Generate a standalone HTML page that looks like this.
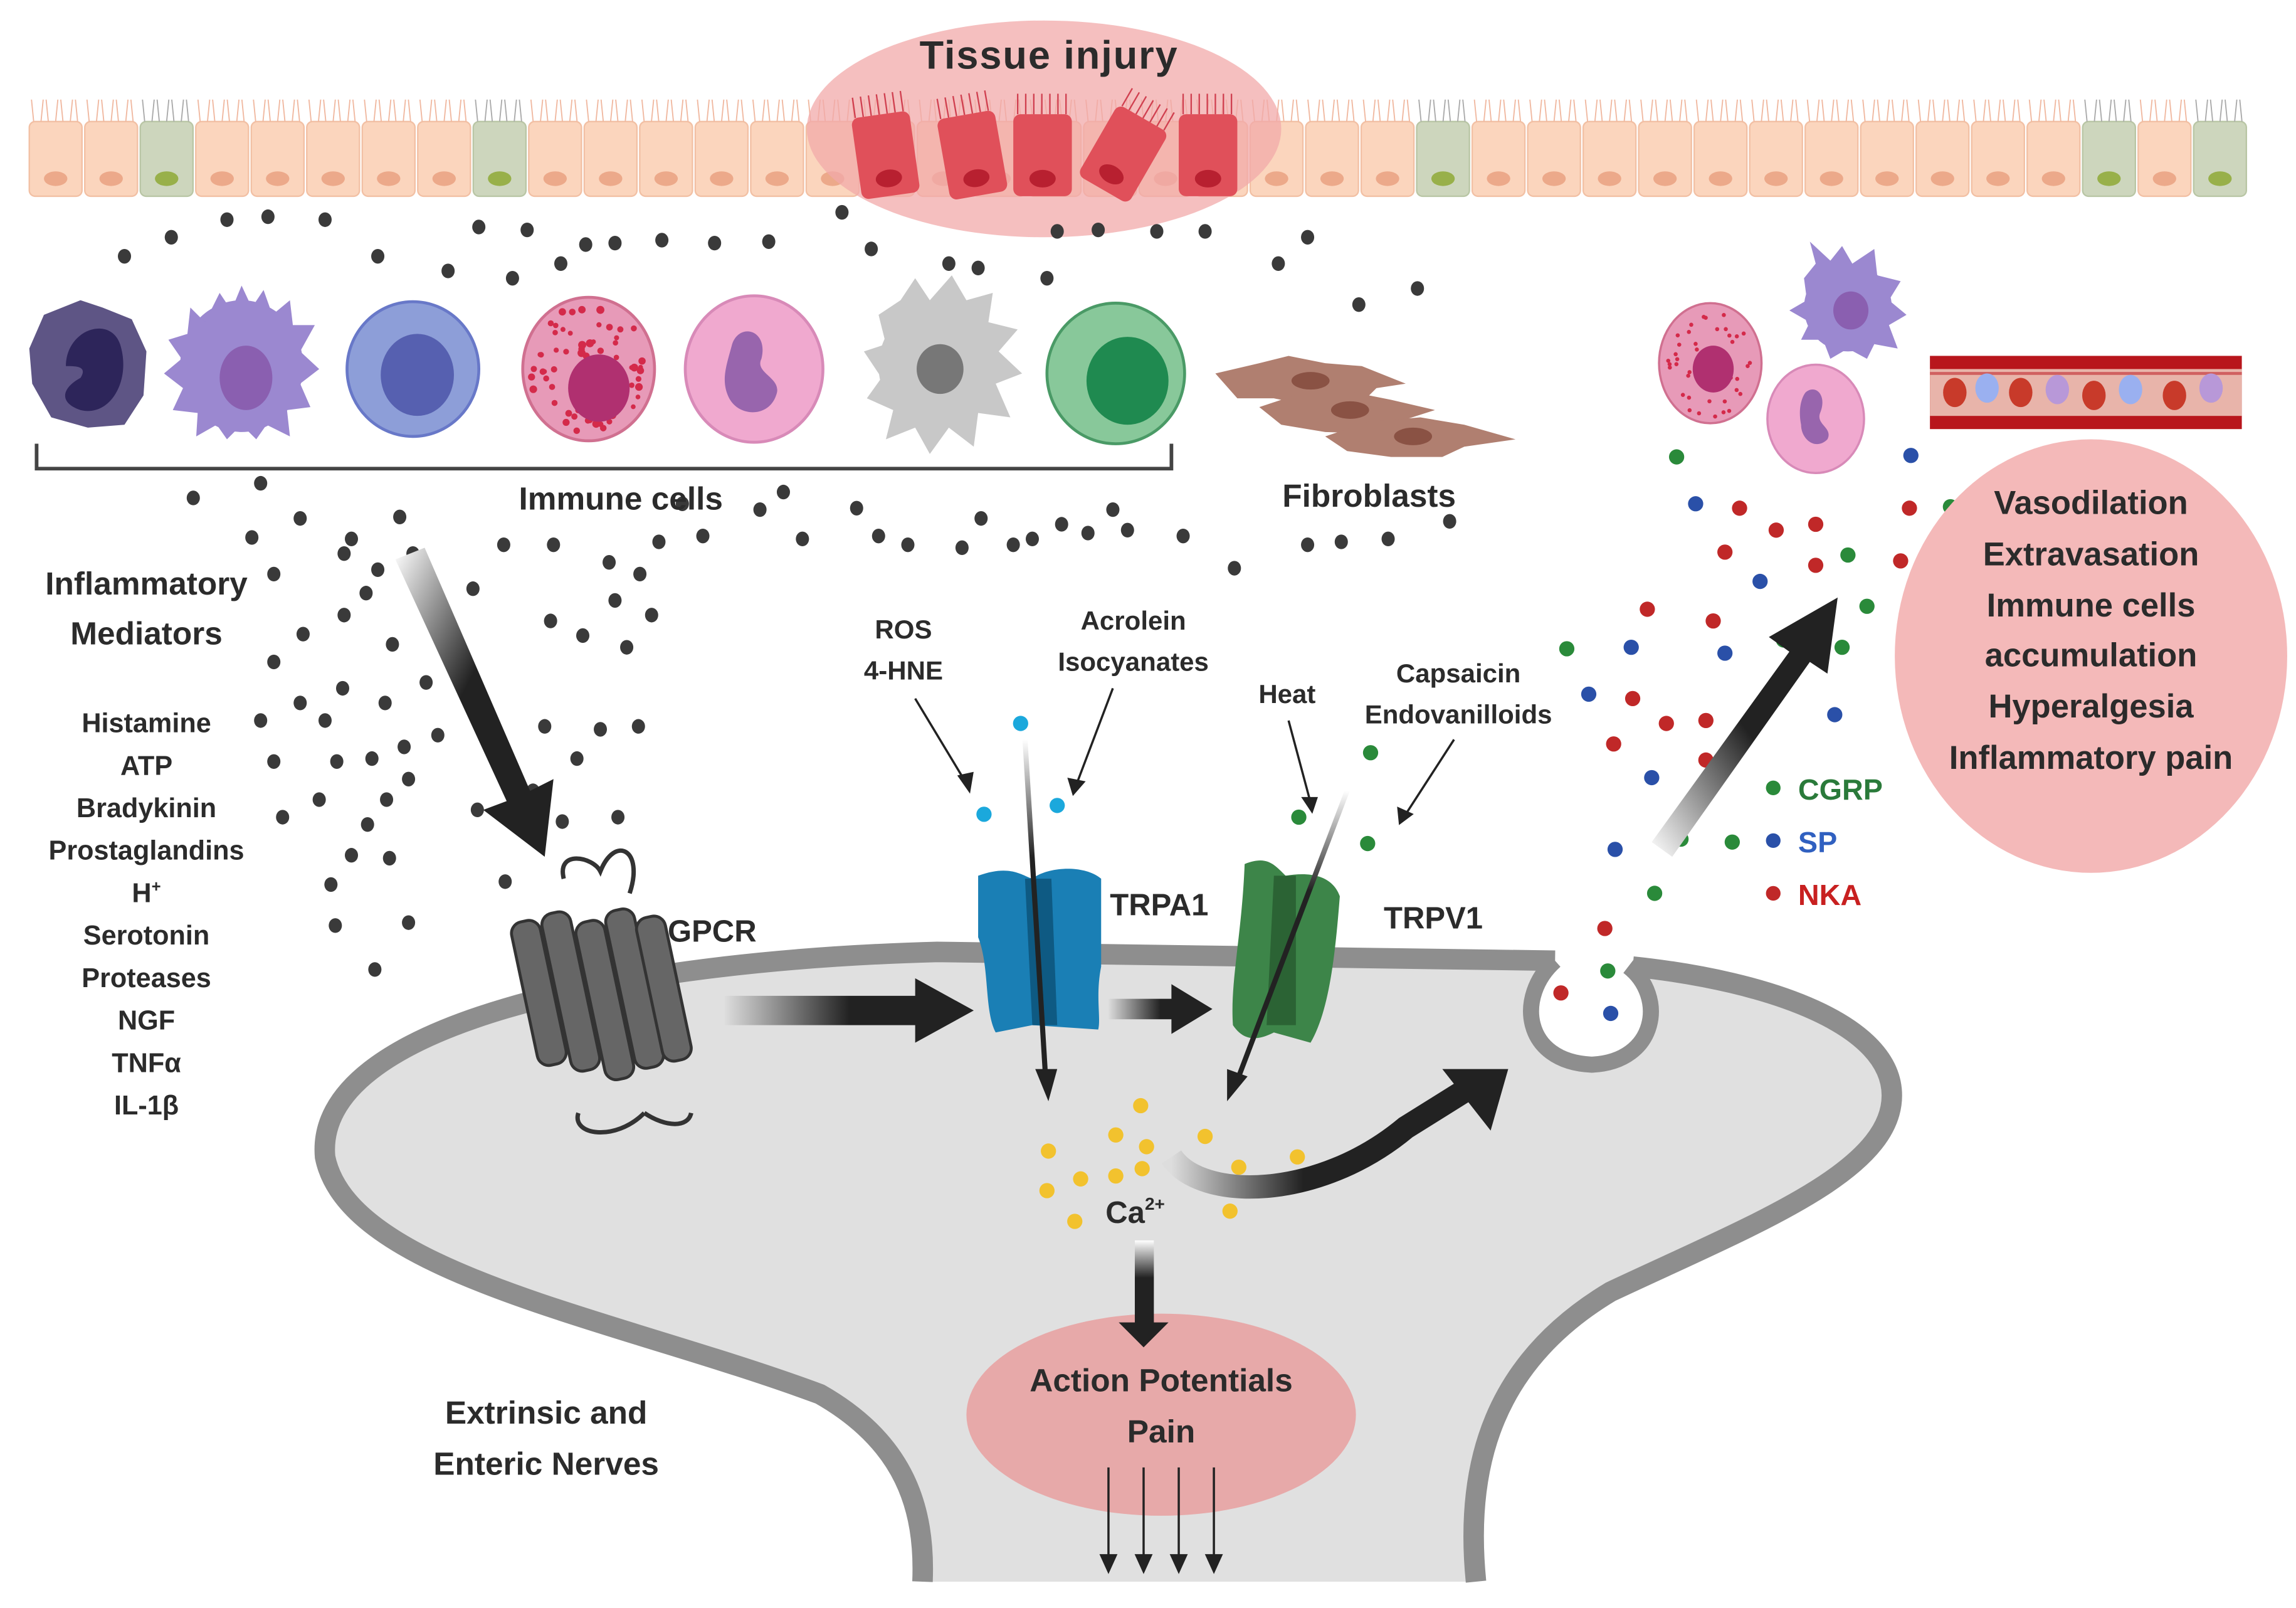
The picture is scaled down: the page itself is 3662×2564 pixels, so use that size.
<!DOCTYPE html>
<html><head><meta charset="utf-8">
<style>
html,body{margin:0;padding:0;background:#fff;}
svg{display:block;}
text{font-family:"Liberation Sans",sans-serif;font-weight:bold;fill:#2b2b2b;}
</style></head>
<body>
<svg id="s" width="3662" height="2564" viewBox="0 0 1568 1098" preserveAspectRatio="none" xmlns="http://www.w3.org/2000/svg">
<defs>
<linearGradient id="ga" x1="0" y1="0" x2="1" y2="1"><stop offset="0" stop-color="#fff"/><stop offset=".45" stop-color="#222"/></linearGradient>
<linearGradient id="gh" x1="0" y1="0" x2="1" y2="0"><stop offset="0" stop-color="#ddd"/><stop offset=".5" stop-color="#222"/></linearGradient>
<linearGradient id="gv" x1="0" y1="0" x2="0" y2="1"><stop offset="0" stop-color="#fff"/><stop offset=".35" stop-color="#222"/></linearGradient>
<linearGradient id="gu" x1="0" y1="1" x2="1" y2="0"><stop offset="0" stop-color="#fff"/><stop offset=".5" stop-color="#222"/></linearGradient>
<linearGradient id="gc" x1="0" y1="0" x2="1" y2="0"><stop offset="0" stop-color="#ddd"/><stop offset=".45" stop-color="#222"/></linearGradient>
</defs>

<g id="epi"></g>
<ellipse cx="713" cy="88" rx="162" ry="74" fill="#f2a9a9" opacity=".75"/>
<g id="inj"></g>
<text x="716" y="47" font-size="27" text-anchor="middle" textLength="176">Tissue injury</text>

<!-- neuron -->
<path d="M222,790 C214,700 420,656 640,650 L1045,654 C1060,655 1062,662 1058,668 C1030,690 1050,728 1087,730 C1124,730 1140,690 1112,668 C1108,662 1112,656 1125,658 C1210,670 1292,700 1292,748 C1292,800 1200,835 1100,882 C1020,930 1000,1000 1008,1080 L630,1080 C632,1030 618,985 560,952 C420,900 238,870 222,790 Z" fill="#e0e0e0"/>
<path d="M1008,1080 C1000,1000 1020,930 1100,882 C1200,835 1292,800 1292,748 C1292,700 1210,670 1115,660" fill="none" stroke="#8e8e8e" stroke-width="14"/>
<path d="M630,1080 C632,1030 618,985 560,952 C420,900 238,870 222,790 C214,700 420,656 640,650 L1062,656" fill="none" stroke="#8e8e8e" stroke-width="14"/>
<path d="M1062,656 C1035,680 1040,725 1087,727 C1132,725 1138,680 1112,660" fill="#fff" stroke="#8e8e8e" stroke-width="11"/>

<g id="dots"></g>
<g id="cdots"></g>

<!-- immune cells -->
<path d="M30,215 L55,205 L70,210 L90,218 L100,240 L98,270 L85,290 L60,292 L35,285 L22,262 L20,238 Z" fill="#5e5585"/>
<path d="M45,250 C45,225 75,215 82,235 C90,260 75,285 55,280 C40,275 42,265 55,258 C60,250 52,250 45,250Z" fill="#2d255a"/>
<g fill="#9b88d0"><ellipse cx="165" cy="250" rx="42" ry="45"/>
<path d="M130,210 L140,220 L150,200 L158,212 L165,195 L172,210 L180,198 L186,215 L198,205 L200,222 L215,222 L205,240 L218,252 L205,262 L212,278 L196,280 L198,298 L182,290 L175,300 L165,290 L155,300 L148,290 L134,298 L135,282 L118,280 L125,265 L112,255 L124,245 L115,232 L128,228 Z"/></g>
<ellipse cx="168" cy="258" rx="18" ry="22" fill="#8a5fb0"/>
<ellipse cx="282" cy="252" rx="45" ry="46" fill="#8d9ed8" stroke="#6878c8" stroke-width="2"/>
<ellipse cx="285" cy="256" rx="25" ry="28" fill="#5660b0"/>
<ellipse cx="402" cy="252" rx="45" ry="49" fill="#e79ab8" stroke="#d07090" stroke-width="2"/>
<g id="gran"></g>
<ellipse cx="409" cy="265" rx="21" ry="23" fill="#b03070"/>
<ellipse cx="515" cy="252" rx="47" ry="50" fill="#f0a9cf" stroke="#d88ab8" stroke-width="2"/>
<path d="M500,235 C505,220 525,225 520,245 C515,255 535,258 530,270 C525,285 505,285 498,272 C492,260 496,250 500,235Z" fill="#9865ad"/>
<g fill="#c8c8c8"><ellipse cx="640" cy="250" rx="40" ry="42"/>
<path d="M600,215 L615,205 L625,190 L635,205 L650,188 L660,205 L678,200 L675,220 L695,225 L682,240 L698,255 L680,262 L690,285 L668,282 L665,305 L648,292 L635,310 L625,292 L605,300 L610,280 L592,272 L602,258 L590,240 L605,235 Z"/></g>
<ellipse cx="642" cy="252" rx="16" ry="17" fill="#777"/>
<ellipse cx="762" cy="255" rx="47" ry="48" fill="#88c89a" stroke="#4a9a66" stroke-width="2"/>
<ellipse cx="770" cy="260" rx="28" ry="30" fill="#1f8a50"/>
<path d="M25,303 L25,320 L800,320 L800,303" fill="none" stroke="#444" stroke-width="2.5"/>
<text x="424" y="348" font-size="22" text-anchor="middle">Immune cells</text>

<!-- fibroblasts -->
<g fill="#b07f70">
<path d="M830,255 L860,248 L880,243 L905,248 L930,250 L960,262 L940,265 L930,275 L900,278 L870,272 L845,272 Z"/>
<path d="M860,278 L890,268 L925,268 L950,273 L980,280 L955,288 L940,296 L905,295 L875,290 Z"/>
<path d="M905,298 L935,288 L970,285 L1000,290 L1035,300 L1000,305 L985,312 L950,312 L920,308 Z"/>
</g>
<g fill="#8a5244"><ellipse cx="895" cy="260" rx="13" ry="6"/><ellipse cx="922" cy="280" rx="13" ry="6"/><ellipse cx="965" cy="298" rx="13" ry="6"/></g>
<text x="935" y="346" font-size="22" text-anchor="middle">Fibroblasts</text>

<!-- mediators text -->
<text x="100" y="406" font-size="22" text-anchor="middle">Inflammatory</text>
<text x="100" y="440" font-size="22" text-anchor="middle">Mediators</text>
<g font-size="18.5" text-anchor="middle">
<text x="100" y="500">Histamine</text><text x="100" y="529">ATP</text><text x="100" y="558">Bradykinin</text>
<text x="100" y="587">Prostaglandins</text><text x="100" y="616">H<tspan font-size="11" dy="-7">+</tspan></text>
<text x="100" y="645">Serotonin</text><text x="100" y="674">Proteases</text><text x="100" y="703">NGF</text>
<text x="100" y="732">TNFα</text><text x="100" y="761">IL-1β</text></g>

<!-- big arrow to GPCR -->
<path d="M270,382 L290,374 L362,540 L378,532 L372,585 L330,553 L346,547 Z" fill="url(#ga)"/>

<!-- GPCR -->
<g fill="#666" stroke="#333" stroke-width="2">
<rect x="358" y="628" width="20" height="100" rx="8" transform="rotate(-12 368 678)"/>
<rect x="380" y="622" width="20" height="110" rx="8" transform="rotate(-12 390 678)"/>
<rect x="402" y="628" width="20" height="110" rx="8" transform="rotate(-12 412 678)"/>
<rect x="424" y="620" width="20" height="110" rx="8" transform="rotate(-12 434 678)"/>
<rect x="444" y="625" width="20" height="100" rx="8" transform="rotate(-12 454 678)"/>
</g>
<path d="M385,600 C380,580 405,585 410,595 C420,570 440,580 430,610 M395,760 C390,775 420,780 440,760 M440,760 C455,770 470,770 472,760" fill="none" stroke="#333" stroke-width="3"/>
<text x="456" y="643" font-size="21">GPCR</text>

<!-- horizontal arrows -->
<path d="M495,680 L625,680 L625,668 L665,690 L625,712 L625,700 L495,700 Z" fill="url(#gh)"/>
<path d="M757,682 L800,682 L800,672 L828,689 L800,706 L800,696 L757,696 Z" fill="url(#gh)"/>

<!-- TRPA1 -->
<path d="M668,598 C690,590 698,598 705,600 C715,592 740,590 752,600 L752,660 C748,680 752,695 750,703 L705,700 L680,705 C672,690 676,660 668,640 Z" fill="#1a7fb5"/>
<path d="M700,600 L718,600 L722,700 L705,700 Z" fill="#0e5a83"/>
<text x="758" y="625" font-size="21">TRPA1</text>
<!-- TRPV1 -->
<path d="M850,590 C865,584 870,590 878,598 C895,595 910,598 915,612 C912,650 908,690 895,712 L870,705 C860,710 850,712 842,700 C840,670 848,640 850,590 Z" fill="#3d8549"/>
<path d="M870,598 L885,598 L885,700 L865,700 Z" fill="#2b6334"/>
<text x="945" y="634" font-size="21">TRPV1</text>

<!-- channel arrows -->
<path d="M700,505 L714,735" stroke="url(#gv)" stroke-width="3.5"/>
<path d="M707,730 L722,730 L716,752 Z" fill="#222"/>
<path d="M920,540 L846,735" stroke="url(#gv)" stroke-width="3.5"/>
<path d="M838,730 L852,735 L838,752 Z" fill="#222"/>

<g font-size="18" text-anchor="middle">
<text x="617" y="436">ROS</text><text x="617" y="464">4-HNE</text>
<text x="774" y="430">Acrolein</text><text x="774" y="458">Isocyanates</text>
<text x="879" y="480">Heat</text>
<text x="996" y="466">Capsaicin</text><text x="996" y="494">Endovanilloids</text>
</g>
<g stroke="#222" stroke-width="1.5" fill="#222">
<line x1="625" y1="477" x2="660" y2="535"/><path d="M655,530 L664,528 L662,540Z"/>
<line x1="760" y1="470" x2="735" y2="536"/><path d="M730,532 L740,534 L733,542Z"/>
<line x1="880" y1="492" x2="895" y2="548"/><path d="M890,545 L899,545 L896,554Z"/>
<line x1="993" y1="505" x2="960" y2="556"/><path d="M955,552 L964,556 L956,562Z"/>
</g>

<!-- Ca curve arrow -->
<path d="M800,790 C820,820 900,820 960,770 L1000,745" fill="none" stroke="url(#gc)" stroke-width="16"/>
<path d="M985,730 L1030,730 L1018,772 Z" fill="#222"/>
<text x="755" y="835" font-size="21">Ca<tspan font-size="12" dy="-9">2+</tspan></text>

<!-- Action potentials -->
<ellipse cx="793" cy="966" rx="133" ry="69" fill="#e8a3a3" opacity=".9"/>
<path d="M775,847 L788,847 L788,903 L798,903 L781,920 L764,903 L775,903 Z" fill="url(#gv)"/>
<text x="793" y="950" font-size="22" text-anchor="middle">Action Potentials</text>
<text x="793" y="985" font-size="22" text-anchor="middle">Pain</text>
<g stroke="#222" stroke-width="1.5" fill="#222">
<line x1="757" y1="1002" x2="757" y2="1066"/><path d="M752,1062 L762,1062 L757,1073Z"/>
<line x1="781" y1="1002" x2="781" y2="1066"/><path d="M776,1062 L786,1062 L781,1073Z"/>
<line x1="805" y1="1002" x2="805" y2="1066"/><path d="M800,1062 L810,1062 L805,1073Z"/>
<line x1="829" y1="1002" x2="829" y2="1066"/><path d="M824,1062 L834,1062 L829,1073Z"/>
</g>
<text x="373" y="972" font-size="22" text-anchor="middle">Extrinsic and</text>
<text x="373" y="1007" font-size="22" text-anchor="middle">Enteric Nerves</text>

<!-- right side -->
<ellipse cx="1428" cy="448" rx="134" ry="148" fill="#f4b9b9"/>
<g font-size="22.5" text-anchor="middle">
<text x="1428" y="351">Vasodilation</text><text x="1428" y="386">Extravasation</text>
<text x="1428" y="421">Immune cells</text><text x="1428" y="455">accumulation</text>
<text x="1428" y="490">Hyperalgesia</text><text x="1428" y="525">Inflammatory pain</text></g>
<ellipse cx="1168" cy="248" rx="35" ry="41" fill="#e79ab8" stroke="#d07090" stroke-width="1.5"/>
<g id="gran2"></g>
<ellipse cx="1170" cy="252" rx="14" ry="16" fill="#b03070"/>
<g fill="#9b88d0"><ellipse cx="1262" cy="210" rx="30" ry="30"/>
<path d="M1232,190 L1240,180 L1236,165 L1250,178 L1258,168 L1265,180 L1280,170 L1282,188 L1298,192 L1290,205 L1302,215 L1290,222 L1296,238 L1280,235 L1275,245 L1262,238 L1250,245 L1245,232 L1230,232 L1236,220 L1222,212 L1234,205 Z"/></g>
<ellipse cx="1264" cy="212" rx="12" ry="13" fill="#8a5fb0"/>
<ellipse cx="1240" cy="286" rx="33" ry="37" fill="#f0a9cf" stroke="#d88ab8" stroke-width="1.5"/>
<path d="M1233,268 C1240,262 1248,270 1243,282 C1240,290 1252,292 1248,300 C1240,308 1230,300 1230,290 C1228,280 1230,272 1233,268Z" fill="#9865ad"/>
<rect x="1318" y="243" width="213" height="50" fill="#b8161c"/>
<rect x="1318" y="252" width="213" height="32" fill="#e8b4aa"/>
<rect x="1318" y="254" width="213" height="2" fill="#d06060"/>
<g id="bv"></g>

<!-- big arrow up right -->
<path d="M1128,575 L1222,445 L1208,435 L1255,408 L1248,460 L1236,452 L1142,585 Z" fill="url(#gu)"/>

<!-- legend -->
<circle cx="1211" cy="538" r="5" fill="#2a8a3a"/><text x="1228" y="546" font-size="20" style="fill:#2a7a3a">CGRP</text>
<circle cx="1211" cy="574" r="5" fill="#2a50a8"/><text x="1228" y="582" font-size="20" style="fill:#3060c0">SP</text>
<circle cx="1211" cy="610" r="5" fill="#c02828"/><text x="1228" y="618" font-size="20" style="fill:#c82020">NKA</text>
</svg>
<script>
const NS="http://www.w3.org/2000/svg";
function el(p,t,a){const e=document.createElementNS(NS,t);for(const k in a)e.setAttribute(k,a[k]);document.getElementById(p).appendChild(e);return e;}
for(let i=0;i<40;i++){
 const x=20+i*37.9;
 const green=[2,8,25,37,39].includes(i);
 el("epi","rect",{x:x,y:83,width:36,height:51,rx:4,fill:green?"#cdd6bd":"#fbd5bd",stroke:green?"#b9c6a5":"#f2c0a4","stroke-width":1});
 el("epi","ellipse",{cx:x+18,cy:122,rx:8,ry:5,fill:green?"#98b04a":"#eca98a"});
 for(let k=0;k<7;k++) el("epi","line",{x1:x+3+k*5,y1:83,x2:x+3+k*5+(k%2?1.5:-1.5),y2:68,stroke:green?"#aaa":"#f0b8a0","stroke-width":0.8});
}
[[604,0,-8],[663,0,-10],[712,0,0],[770,0,30],[825,0,0]].forEach(([cx,_,r])=>{
 const g=el("inj","g",{transform:`rotate(${r} ${cx} 100)`});
 const a=(t,o)=>{const e=document.createElementNS(NS,t);for(const k in o)e.setAttribute(k,o[k]);g.appendChild(e);};
 a("rect",{x:cx-20,y:78,width:40,height:56,rx:5,fill:"#e0505a"});
 a("ellipse",{cx:cx,cy:122,rx:9,ry:6,fill:"#b82030"});
 for(let k=0;k<7;k++)a("line",{x1:cx-17+k*5.5,y1:78,x2:cx-17+k*5.5,y2:64,stroke:"#d04050","stroke-width":1});
});
const D=[[85,175],[117,162],[155,150],[183,148],[222,150],[258,175],[327,155],[360,157],[306,185],[350,190],[383,180],[400,167],[420,166],[452,164],[488,166],[525,165],[575,145],[595,170],[648,180],[668,183],[715,190],[722,158],[750,157],[790,158],[823,158],[873,180],[893,162],[968,197],[928,208],
[132,340],[178,330],[205,354],[172,367],[240,368],[273,353],[235,378],[282,378],[323,402],[344,372],[378,372],[416,384],[437,392],[450,370],[466,344],[480,366],[519,348],[535,336],[548,368],[585,347],[600,366],[620,372],[657,374],[670,354],[692,372],[705,368],[725,358],[743,364],[760,348],[770,362],[808,366],[843,388],[893,372],[916,370],[948,368],[990,356],
[187,392],[207,433],[235,420],[250,405],[258,389],[268,440],[300,422],[376,424],[398,434],[420,410],[445,420],[428,442],[187,452],[234,470],[263,480],[291,466],[178,492],[205,480],[222,492],[187,520],[230,520],[254,518],[276,510],[299,502],[333,496],[372,496],[410,498],[436,496],[394,518],[218,546],[264,546],[279,532],[193,558],[251,563],[326,553],[348,538],[364,540],[384,561],[422,558],[240,584],[266,586],[226,604],[345,602],[229,632],[279,630],[256,662],[200,264]];
D.forEach(([x,y])=>el("dots","ellipse",{cx:x,cy:y,rx:4.5,ry:5,fill:"#3a3a3a"}));
const G="#2a8a3a",B="#2a50a8",R="#c02828",C="#1ba8dc",Y="#f2c22e";
const CD=[[672,556,C],[697,494,C],[722,550,C],[936,514,G],[887,558,G],[934,576,G],
[1145,312,G],[1158,344,B],[1188,347,R],[1213,362,R],[1240,358,R],[1262,379,G],[1305,311,B],[1304,347,R],[1332,346,G],[1337,363,R],[1330,404,G],[1298,383,R],[1178,377,R],[1202,397,B],[1240,386,R],[1275,414,G],[1310,440,B],[1125,416,R],[1170,424,R],[1070,443,G],[1114,442,B],[1178,446,B],[1218,437,G],[1258,442,G],[1085,474,B],[1115,477,R],[1138,494,R],[1165,492,R],[1102,508,R],[1128,531,B],[1165,519,R],[1253,488,B],[1103,580,B],[1148,573,G],[1183,575,G],[1130,610,G],[1096,634,R],[1098,663,G],[1066,678,R],[1100,692,B],
[779,755,Y],[762,775,Y],[783,783,Y],[716,786,Y],[738,805,Y],[762,803,Y],[780,798,Y],[823,776,Y],[846,797,Y],[886,790,Y],[715,813,Y],[734,834,Y],[840,827,Y]];
CD.forEach(([x,y,c])=>el("cdots","circle",{cx:x,cy:y,r:5.2,fill:c}));
for(let i=0;i<70;i++){const a=Math.random()*6.28,r=Math.sqrt(Math.random());el("gran","circle",{cx:402+Math.cos(a)*r*40,cy:252+Math.sin(a)*r*44,r:1.6+Math.random()*1.2,fill:"#d42a4a"});}
for(let i=0;i<45;i++){const a=Math.random()*6.28,r=Math.sqrt(Math.random());el("gran2","circle",{cx:1168+Math.cos(a)*r*31,cy:248+Math.sin(a)*r*37,r:1.4,fill:"#d42a4a"});}
[[1335,268,"#c83a2a"],[1357,265,"#9ab0f0"],[1380,268,"#c83a2a"],[1405,266,"#b898d8"],[1430,270,"#c83a2a"],[1455,266,"#9ab0f0"],[1485,270,"#c83a2a"],[1510,265,"#b898d8"]].forEach(([x,y,c])=>el("bv","ellipse",{cx:x,cy:y,rx:8,ry:10,fill:c}));
</script>
</body></html>
